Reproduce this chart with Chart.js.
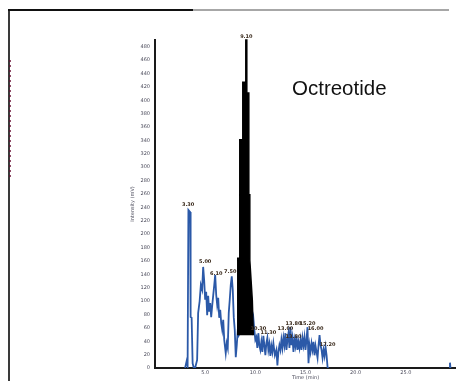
<!DOCTYPE html>
<html>
<head>
<meta charset="utf-8">
<script src="https://cdn.jsdelivr.net/npm/chart.js@4.4.1/dist/chart.umd.min.js"></script>
<style>
  body { margin: 0; background: #fff; }
  canvas { display: block; }
</style>
</head>
<body>
<canvas id="chart-area" width="456" height="381"></canvas>
<script>
// retention time (min) / intensity of the blue trace
var blueTime = [3.0, 3.15, 3.25, 3.33, 3.5, 3.55, 3.65, 3.75, 3.85, 4.0, 4.2, 4.3, 4.45, 4.57, 4.7, 4.8, 4.9, 5.0, 5.1, 5.2,
    5.3, 5.4, 5.5, 5.6, 5.7, 5.8, 5.9, 6.0, 6.1, 6.2, 6.3, 6.4, 6.5, 6.6, 6.7, 6.8, 6.9, 7.05, 7.15, 7.25,
    7.35, 7.45, 7.55, 7.65, 7.75, 7.85, 7.95, 8.05, 8.15, 8.25, 8.35, 8.5, 9.5, 9.8, 9.9, 10.0, 10.1, 10.2, 10.3, 10.4,
    10.5, 10.6, 10.7, 10.8, 10.9, 11.0, 11.1, 11.2, 11.3, 11.4, 11.5, 11.6, 11.7, 11.8, 11.95, 12.1, 12.2, 12.3, 12.4, 12.5,
    12.6, 12.7, 12.8, 12.9, 13.0, 13.1, 13.2, 13.3, 13.4, 13.5, 13.6, 13.7, 13.8, 13.9, 14.0, 14.1, 14.2, 14.3, 14.4, 14.5,
    14.6, 14.7, 14.8, 14.9, 15.0, 15.1, 15.2, 15.3, 15.4, 15.5, 15.6, 15.7, 15.8, 15.9, 16.0, 16.1, 16.2, 16.3, 16.4, 16.5,
    16.6, 16.7, 16.8, 16.9, 17.0, 17.1, 17.2, 17.3, 20.0, 29.35, 29.4, 29.45];
var blueIntensity = [0, 10, 3, 236, 233, 76, 75, 7, 1, 0, 12, 82, 100, 124, 117, 151, 131, 102, 114, 79,
    108, 84, 97, 76, 93, 108, 123, 139, 109, 94, 105, 75, 87, 67, 57, 72, 42, 22, 37, 30,
    82, 102, 124, 137, 117, 76, 57, 16, 34, 57, 49, 54, 52, 75, 57, 42, 46, 30, 52, 34,
    27, 39, 24, 48, 34, 19, 37, 45, 27, 36, 18, 33, 24, 37, 19, 27, 4, 24, 34, 27,
    42, 30, 45, 34, 52, 27, 42, 52, 30, 61, 34, 45, 24, 42, 33, 48, 27, 39, 30, 42,
    27, 45, 34, 46, 27, 42, 61, 7, 34, 24, 37, 27, 39, 19, 33, 24, 15, 34, 49, 34,
    27, 15, 27, 18, 31, 19, 1, 0, null, 0, 8, 0];

// octreotide main peak (filled black)
var peakTime = [8.25, 8.25, 8.45, 8.45, 8.75, 8.75, 9.0, 9.05, 9.15, 9.15, 9.35, 9.35, 9.45, 9.45, 9.7, 9.8];
var peakIntensity = [49, 164, 164, 341, 341, 427, 427, 490, 490, 411, 411, 259, 259, 161, 101, 49];
var peakBase = 49;

// small retention time labels above the peaks
var markTime = [3.3, 5.0, 6.1, 7.5, 9.1, 10.3, 11.3, 13.0, 13.8, 13.8, 15.2, 16.0, 17.2];
var markValue = [236, 151, 134, 137, 487, 51, 45, 51, 58, 39, 58, 51, 27];

var xTicks = [5, 10, 15, 20, 25];

function pairs(xs, ys) {
    return xs.map(function(x, i) { return { x: x, y: ys[i] }; });
}

var framePlugin = {
    id: 'frame',
    beforeDraw: function(chart) {
        var ctx = chart.ctx;
        ctx.save();
        ctx.fillStyle = '#fff';
        ctx.fillRect(0, 0, chart.width, chart.height);
        // left border
        ctx.strokeStyle = '#3a3a3a';
        ctx.lineWidth = 2;
        ctx.beginPath();
        ctx.moveTo(9, 9);
        ctx.lineTo(9, 381);
        ctx.stroke();
        // top border
        ctx.strokeStyle = '#111';
        ctx.beginPath();
        ctx.moveTo(8, 10);
        ctx.lineTo(193, 10);
        ctx.stroke();
        ctx.strokeStyle = '#8a8a8a';
        ctx.lineWidth = 1.5;
        ctx.beginPath();
        ctx.moveTo(193, 10);
        ctx.lineTo(449, 10);
        ctx.stroke();
        // dotted marks on the left edge
        ctx.strokeStyle = '#6a1034';
        ctx.lineWidth = 1.5;
        ctx.setLineDash([2, 3]);
        ctx.beginPath();
        ctx.moveTo(10, 60);
        ctx.lineTo(10, 180);
        ctx.stroke();
        ctx.restore();
    },
    afterDraw: function(chart) {
        var ctx = chart.ctx;
        var xs = chart.scales.x, ys = chart.scales.y;
        ctx.save();
        ctx.fillStyle = '#111';
        ctx.font = '20.5px "Liberation Sans", Arial, sans-serif';
        ctx.textBaseline = 'alphabetic';
        ctx.fillText('Octreotide', 292, 95);

        ctx.font = 'bold 5px "DejaVu Sans", sans-serif';
        ctx.textAlign = 'center';
        ctx.textBaseline = 'middle';
        ctx.fillStyle = '#3a2a1c';
        markTime.forEach(function(t, i) {
            ctx.fillText(t.toFixed(2), xs.getPixelForValue(t), ys.getPixelForValue(markValue[i]) - 5);
        });
        ctx.restore();
    }
};

var config = {
    type: 'line',
    data: {
        datasets: [{
            label: 'Octreotide',
            data: pairs(peakTime, peakIntensity),
            borderColor: '#000',
            backgroundColor: '#000',
            borderWidth: 1.5,
            fill: { value: peakBase },
            pointRadius: 0,
            tension: 0,
            clip: false
        }, {
            label: 'Trace',
            data: pairs(blueTime, blueIntensity),
            borderColor: '#2b59a8',
            borderWidth: 1.8,
            fill: false,
            pointRadius: 0,
            tension: 0,
            spanGaps: false
        }]
    },
    options: {
        responsive: false,
        animation: false,
        devicePixelRatio: 1,
        layout: { padding: { left: 130, top: 40, right: 0, bottom: 0 } },
        plugins: {
            legend: { display: false },
            tooltip: { enabled: false }
        },
        scales: {
            x: {
                type: 'linear',
                min: 0,
                max: 30,
                afterFit: function(scale) { scale.height = 13; },
                afterBuildTicks: function(scale) {
                    scale.ticks = xTicks.map(function(v) { return { value: v }; });
                },
                ticks: {
                    padding: 2,
                    color: '#4a4a5a',
                    font: { size: 5, family: '"DejaVu Sans", sans-serif' },
                    callback: function(v) { return v.toFixed(1); }
                },
                grid: { display: false, drawTicks: false },
                border: { color: '#1a1a1a', width: 2 },
                title: {
                    display: true,
                    text: 'Time (min)',
                    color: '#4a4a5a',
                    padding: 0,
                    font: { size: 5, family: '"DejaVu Sans", sans-serif' }
                }
            },
            y: {
                min: 0,
                max: 490,
                afterFit: function(scale) { scale.width = 25; },
                afterBuildTicks: function(scale) {
                    scale.ticks = scale.ticks.filter(function(t) { return t.value % 20 === 0; });
                },
                ticks: {
                    stepSize: 20,
                    autoSkip: false,
                    padding: 5,
                    color: '#4a4a5a',
                    font: { size: 5, family: '"DejaVu Sans", sans-serif' }
                },
                grid: { display: false, drawTicks: false },
                border: { color: '#1a1a1a', width: 2 },
                title: {
                    display: true,
                    text: 'Intensity (mV)',
                    color: '#4a4a5a',
                    padding: 0,
                    font: { size: 5, family: '"DejaVu Sans", sans-serif' }
                }
            }
        }
    },
    plugins: [framePlugin]
};

window.onload = function() {
    var ctx = document.getElementById('chart-area').getContext('2d');
    window.myChart = new Chart(ctx, config);
};
</script>
</body>
</html>
